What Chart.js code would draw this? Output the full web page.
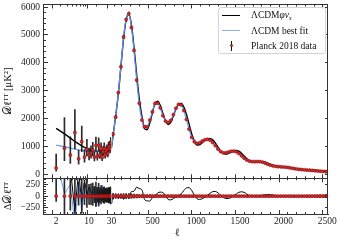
<!DOCTYPE html>
<html><head><meta charset="utf-8">
<script src="https://cdn.jsdelivr.net/npm/chart.js@4.4.1/dist/chart.umd.min.js"></script>
<style>
html,body{margin:0;padding:0;background:#fff;}
#wrap{position:relative;width:341px;height:242px;}
canvas{display:block;}
#legend{position:absolute;left:218px;top:7px;width:108px;height:47px;box-sizing:border-box;border:1px solid #d4d4d4;border-radius:3px;background:rgba(255,255,255,0.85);font-family:'Liberation Serif','DejaVu Serif',serif;font-size:9.5px;color:#111;}
.row{position:absolute;left:0;width:100%;height:12px;}
.txt{position:absolute;left:32px;top:0;line-height:12px;white-space:nowrap;}
.ln{position:absolute;left:3px;width:18px;top:5.5px;height:0;}
.eb{position:absolute;left:12px;top:1px;width:1px;height:10px;background:#111;}
.dot{position:absolute;left:10.7px;top:4.7px;width:3.2px;height:3.2px;border-radius:50%;background:#d42a2a;border:0.4px solid #7d0b0b;box-sizing:border-box;}
sub{font-size:70%;vertical-align:-2px;line-height:0;}
</style></head>
<body>
<div id="wrap">
<canvas id="c" width="341" height="242"></canvas>
<div id="legend">
 <div class="row" style="top:1px"><div class="ln" style="border-top:1.5px solid #000"></div><span class="txt">ΛCDM<i>φν</i><sub><i>s</i></sub></span></div>
 <div class="row" style="top:16.5px"><div class="ln" style="border-top:1.5px solid #8db3f2"></div><span class="txt">ΛCDM best fit</span></div>
 <div class="row" style="top:31.5px"><div class="eb"></div><div class="dot"></div><span class="txt">Planck 2018 data</span></div>
</div>
</div>
<script>
// ---------- low-ℓ (log axis) ----------
const ellLow = [2,3,4,5,6,7,8,9,10,11,12,13,14,15,16,17,18,19,20,21,22,23,24,25,26,27,28,29];
const dataLow = [226,937,693,1501,558,1173,620,900,690,760,870,620,1040,640,1040,700,910,600,820,930,690,820,880,740,960,1000,910,1120];
const errLowMinus = [110,450,300,580,190,360,180,240,175,180,200,140,220,130,200,130,165,105,140,155,112,130,136,112,143,147,131,160];
const errLowPlus = [500,1100,650,820,300,560,270,360,250,260,280,190,300,180,270,175,220,140,185,200,145,165,175,145,182,186,167,200];
const ellModelLow = [2,3,4,5,6,7,8,9,10,11,12,13,14,15,16,17,18,19,20,21,22,23,24,25,26,27,28,29,30];
const lcdmLow = [1050,990,940,905,880,860,845,835,828,823,820,819,819,820,823,827,832,838,845,853,862,872,883,895,908,922,937,953,970];
const phiLow = [1650,1450,1300,1180,1090,1020,965,920,885,860,843,832,826,823,823,826,830,836,843,851,860,870,881,893,906,920,935,951,968];
const resLcdmLow = [824,53,247,-596,322,-313,225,-65,138,63,-50,199,-221,180,-217,127,-78,238,25,-77,172,52,3,155,-52,-78,27,-167];
const resPhiLow = [1424,513,607,-321,532,-153,345,20,195,100,-27,212,-214,183,-217,126,-80,236,23,-79,170,50,1,153,-54,-80,25,-169];

// ---------- high-ℓ (linear axis), binned ----------
const ellBins = [48,78,108,138,168,198,228,258,288,318,348,378,408,438,468,498,528,558,588,618,648,678,708,738,768,798,828,858,888,918,948,978,1008,1038,1068,1098,1128,1158,1188,1218,1248,1278,1308,1338,1368,1398,1428,1458,1488,1518,1548,1578,1608,1638,1668,1698,1728,1758,1788,1818,1848,1878,1908,1938,1968,1998,2028,2058,2088,2118,2148,2178,2208,2238,2268,2298,2328,2358,2388,2418,2448,2478,2497];
const dataHigh = [1440,2055,2930,3860,4925,5550,5760,5265,4445,3380,2550,1945,1710,1700,1945,2240,2542,2552,2385,2104,1910,1860,1940,2140,2370,2510,2490,2290,1970,1620,1330,1170,1110,1130,1190,1240,1255,1225,1140,1030,910,820,775,775,800,825,832,810,750,665,580,515,475,458,455,457,455,438,405,365,330,305,288,277,270,264,255,242,226,208,192,180,170,162,155,148,140,131,122,114,107,100,96];
const errHigh = [60,50,48,50,53,55,55,50,45,38,32,28,26,25,25,25,25,24,23,22,21,20,20,20,20,20,20,19,18,17,15,14,13,13,13,13,13,13,12,12,11,11,11,11,11,11,11,11,11,10,10,10,10,10,10,11,11,11,11,11,11,12,12,12,13,13,14,14,15,15,16,17,18,19,20,21,22,23,25,27,29,31,35];
const ellModelHigh = [30,48,78,108,138,168,198,228,258,288,318,348,378,408,438,468,498,528,558,588,618,648,678,708,738,768,798,828,858,888,918,948,978,1008,1038,1068,1098,1128,1158,1188,1218,1248,1278,1308,1338,1368,1398,1428,1458,1488,1518,1548,1578,1608,1638,1668,1698,1728,1758,1788,1818,1848,1878,1908,1938,1968,1998,2028,2058,2088,2118,2148,2178,2208,2238,2268,2298,2328,2358,2388,2418,2448,2478,2497,2508];
const lcdmHigh = [970,1380,2100,2900,3900,4900,5580,5740,5300,4430,3400,2520,1960,1700,1720,1930,2250,2530,2560,2380,2110,1910,1860,1940,2140,2370,2510,2490,2290,1970,1620,1330,1170,1110,1130,1190,1240,1255,1225,1140,1030,910,820,775,775,800,825,832,810,750,665,580,515,475,458,455,457,455,438,405,365,330,305,288,277,270,264,255,242,226,208,192,180,170,162,155,148,140,131,122,114,107,100,96,94];
const phiHigh = [968,1400,2090,2880,3870,4860,5550,5750,5360,4550,3570,2710,2080,1640,1600,1840,2210,2540,2620,2470,2180,1920,1790,1860,2090,2350,2520,2540,2410,2145,1800,1450,1190,1055,1060,1135,1215,1270,1285,1235,1130,980,840,750,725,750,795,837,855,830,757,660,560,485,453,450,457,465,458,433,397,360,327,302,287,278,272,265,254,238,218,200,186,176,168,160,153,145,136,127,118,111,104,100,98];
const resLcdmHigh = [-60,45,-30,40,-25,30,-20,35,-15,20,-30,15,-10,20,-15,10,-12,8,-5,6,0,0,0,0,0,0,0,0,0,0,0,0,0,0,0,0,0,0,0,0,0,0,0,0,0,0,0,0,0,0,0,0,0,0,0,0,0,0,0,0,0,0,0,0,0,0,0,0,0,0,0,0,0,0,0,0,0,0,0,0,0,0,0];
const resPhiHigh = [-40,35,-50,10,-65,0,-10,95,105,190,160,135,-70,-100,-105,-30,-2,68,85,76,10,-70,-80,-50,-20,10,50,120,175,180,120,20,-55,-70,-55,-25,15,60,95,100,70,20,-25,-50,-50,-30,5,45,80,92,80,45,10,-5,-5,0,10,20,28,32,30,22,14,10,8,8,10,12,12,10,8,6,6,6,5,5,5,5,5,4,4,4,4];

// ---------- axes / ticks ----------
const logTicks = [2,3,4,5,6,7,8,9,10,20,30];
const logLabels = [2,10,30];
const linLabels = [500,1000,1500,2000,2500];
const linMinorStep = 100;
const yTopLabels = [0,1000,2000,3000,4000,5000,6000];
const yTopMinorStep = 200;
const yBotLabels = [-250,0,250];
const yBotMinorStep = 50;
const X_LOG_MIN = 1.05, X_SPLIT = 30, X_LIN_MAX = 2508;
const YT_MIN = -140, YT_MAX = 6090, YB_MIN = -380, YB_MAX = 380;

const FONT = "'Liberation Serif','DejaVu Serif','DejaVu Sans',serif";
Chart.defaults.font.family = FONT;
Chart.defaults.color = '#111';

const RED = '#d42a2a', REDEDGE = '#7d0b0b', BLUE = 'rgba(100,149,237,0.95)', BLACK = '#000', ERR = 'rgba(20,20,20,0.9)';
const FRAME = '#333';

function pts(xs, ys) { return xs.map((x, i) => ({x: x, y: ys[i]})); }
function bars(xs, lo, hi) { return xs.map((x, i) => ({x: x, y: [lo[i], hi[i]]})); }
function lineDS(data, x, y, color, w, order, smooth) {
  return {type: 'line', data, xAxisID: x, yAxisID: y, borderColor: color, borderWidth: w, pointRadius: 0,
    fill: false, cubicInterpolationMode: smooth ? 'monotone' : 'default', tension: 0, order};
}
function pointDS(data, x, y) {
  return {type: 'line', data, xAxisID: x, yAxisID: y, showLine: false, pointRadius: 1.6,
    pointBackgroundColor: RED, pointBorderColor: REDEDGE, pointBorderWidth: 0.5, order: 0};
}
function errDS(data, x, y) {
  return {type: 'bar', data, xAxisID: x, yAxisID: y, backgroundColor: ERR, borderWidth: 0,
    barThickness: 1, maxBarThickness: 1, grouped: false, order: 1};
}

const nL = ellLow.length;
const datasets = [
  // top panel
  pointDS(pts(ellLow, dataLow), 'xlog', 'ytop'),
  pointDS(pts(ellBins, dataHigh), 'xlin', 'ytop'),
  errDS(bars(ellLow, dataLow.map((d, i) => d - errLowMinus[i]), dataLow.map((d, i) => d + errLowPlus[i])), 'xlog', 'ytop'),
  errDS(bars(ellBins, dataHigh.map((d, i) => d - errHigh[i]), dataHigh.map((d, i) => d + errHigh[i])), 'xlin', 'ytop'),
  lineDS(pts(ellModelLow.concat([ellModelHigh[1]]), lcdmLow.concat([lcdmHigh[1]])), 'xlog', 'ytop', BLUE, 1.3, 2, true),
  lineDS(pts(ellModelHigh, lcdmHigh), 'xlin', 'ytop', BLUE, 1.3, 2, true),
  lineDS(pts(ellModelLow.concat([ellModelHigh[1]]), phiLow.concat([phiHigh[1]])), 'xlog', 'ytop', BLACK, 1.4, 3, true),
  lineDS(pts(ellModelHigh, phiHigh), 'xlin', 'ytop', BLACK, 1.4, 3, true),
  // residual panel
  pointDS(ellLow.map(l => ({x: l, y: 0})), 'xlog', 'ybot'),
  pointDS(ellBins.map(l => ({x: l, y: 0})), 'xlin', 'ybot'),
  errDS(bars(ellLow, errLowMinus.map(e => -e), errLowPlus), 'xlog', 'ybot'),
  errDS(bars(ellBins, errHigh.map(e => -e), errHigh), 'xlin', 'ybot'),
  lineDS(pts(ellLow.concat([ellBins[0]]), resLcdmLow.concat([resLcdmHigh[0]])), 'xlog', 'ybot', BLUE, 1.0, 2, false),
  lineDS(pts([ellLow[nL - 1]].concat(ellBins), [resLcdmLow[nL - 1]].concat(resLcdmHigh)), 'xlin', 'ybot', BLUE, 1.0, 2, true),
  lineDS(pts(ellLow.concat([ellBins[0]]), resPhiLow.concat([resPhiHigh[0]])), 'xlog', 'ybot', BLACK, 1.0, 3, false),
  lineDS(pts([ellLow[nL - 1]].concat(ellBins), [resPhiLow[nL - 1]].concat(resPhiHigh)), 'xlin', 'ybot', BLACK, 1.0, 3, true)
];

// inward tick marks drawn as dashed grid lines (ticks on both edges of each panel)
function xDash(ctx, major) {
  const c = ctx.chart, yt = c.scales.ytop, yb = c.scales.ybot;
  if (!yt || !yb) return [];
  const t = major ? 4 : 2;
  const ht = yt.bottom - yt.top, hb = yb.bottom - yb.top;
  return [t, ht - 2 * t, 2 * t, hb - 2 * t, t, 3000];
}
function yDash(ctx, major, solid) {
  if (!ctx.tick) return [];
  if (solid) return [];
  const a = ctx.chart.chartArea;
  const w = a.right - a.left;
  const t = major ? 4 : 2;
  return [t, w - 2 * t, t, 3000];
}
const tickFont = {family: FONT, size: 9.5};

// clip each dataset to its own panel / segment
const panelClip = {
  id: 'panelClip',
  beforeDatasetDraw(chart, args) {
    const m = args.meta, ctx = chart.ctx;
    ctx.save();
    ctx.beginPath();
    ctx.rect(m.xScale.left, m.yScale.top, m.xScale.right - m.xScale.left, m.yScale.bottom - m.yScale.top);
    ctx.clip();
  },
  afterDatasetDraw(chart) { chart.ctx.restore(); }
};

new Chart(document.getElementById('c'), {
  type: 'line',
  data: {datasets},
  plugins: [panelClip],
  options: {
    responsive: false, animation: false, events: [], devicePixelRatio: 1,
    layout: {padding: {top: 3, right: 13, bottom: 0, left: 0}},
    plugins: {
      legend: {display: false}, tooltip: {enabled: false},
      title: {display: true, text: 'ℓ\u2003\u2002', position: 'bottom', fullSize: false, color: '#111',
        font: {family: FONT, size: 11, weight: 'normal'}, padding: {top: 0, bottom: 2}}
    },
    scales: {
      xlog: {
        type: 'logarithmic', position: 'bottom', stack: 'x', stackWeight: 68.5, weight: 0,
        min: X_LOG_MIN, max: X_SPLIT, offset: false,
        afterBuildTicks: s => { s.ticks = logTicks.map(v => ({value: v})); },
        afterFit: s => { s.height = 12.8; s.paddingLeft = 0; s.paddingRight = 0; },
        ticks: {autoSkip: false, maxRotation: 0, padding: 2, font: tickFont, color: '#222',
          callback: v => logLabels.includes(v) ? String(v) : ''},
        grid: {drawTicks: false, z: 1, lineWidth: 1, color: FRAME},
        border: {display: true, color: FRAME, width: 1, z: 1,
          dash: ctx => ctx.tick ? xDash(ctx, logLabels.includes(ctx.tick.value)) : []}
      },
      xlin: {
        type: 'linear', position: 'bottom', stack: 'x', stackWeight: 216.5, weight: 1,
        min: X_SPLIT, max: X_LIN_MAX, offset: false,
        afterBuildTicks: s => {
          const t = [{value: X_SPLIT}];
          for (let v = linMinorStep; v <= X_LIN_MAX; v += linMinorStep) t.push({value: v});
          t.push({value: X_LIN_MAX});
          s.ticks = t;
        },
        afterFit: s => { s.height = 12.8; s.paddingLeft = 0; s.paddingRight = 0; },
        ticks: {autoSkip: false, maxRotation: 0, padding: 2, font: tickFont, color: '#222',
          callback: v => linLabels.includes(v) ? String(v) : ''},
        grid: {drawTicks: false, z: 1, lineWidth: 1,
          color: ctx => (ctx.tick && ctx.tick.value === X_SPLIT) ? '#9a9a9a' : FRAME},
        border: {display: true, color: FRAME, width: 1, z: 1,
          dash: ctx => {
            if (!ctx.tick) return [];
            if (ctx.tick.value === X_SPLIT) return [3, 2];
            if (ctx.tick.value === X_LIN_MAX) return [];
            return xDash(ctx, linLabels.includes(ctx.tick.value));
          }}
      },
      ytop: {
        type: 'linear', position: 'left', stack: 'y', stackWeight: 175, weight: 2,
        min: YT_MIN, max: YT_MAX,
        afterBuildTicks: s => {
          const t = [{value: YT_MIN}];
          for (let v = 0; v <= YT_MAX; v += yTopMinorStep) t.push({value: v});
          t.push({value: YT_MAX});
          s.ticks = t;
        },
        afterFit: s => { s.width = 43; s.paddingTop = 0; s.paddingBottom = 0; },
        ticks: {autoSkip: false, padding: 3, font: tickFont, color: '#222',
          callback: v => yTopLabels.includes(v) ? String(v) : ''},
        title: {display: true, text: '𝒟ℓᵀᵀ [μK²]', color: '#111', font: {family: FONT, size: 10.5}, padding: {top: 1.5, bottom: 0}},
        grid: {drawTicks: false, z: 1, lineWidth: 1, color: FRAME},
        border: {display: true, color: FRAME, width: 1, z: 1,
          dash: ctx => ctx.tick ? yDash(ctx, yTopLabels.includes(ctx.tick.value),
            ctx.tick.value === YT_MIN || ctx.tick.value === YT_MAX) : []}
      },
      ybot: {
        type: 'linear', position: 'left', stack: 'y', stackWeight: 36, weight: 1,
        min: YB_MIN, max: YB_MAX,
        afterBuildTicks: s => {
          const t = [{value: YB_MIN}];
          for (let v = -350; v <= 350; v += yBotMinorStep) t.push({value: v});
          t.push({value: YB_MAX});
          s.ticks = t;
        },
        afterFit: s => { s.width = 43; s.paddingTop = 0; s.paddingBottom = 0; },
        ticks: {autoSkip: false, padding: 3, font: tickFont, color: '#222',
          callback: v => yBotLabels.includes(v) ? String(v).replace('-', '\u2212') : ''},
        title: {display: true, text: 'Δ𝒟ℓᵀᵀ', color: '#111', font: {family: FONT, size: 10.5}, padding: {top: 1.5, bottom: 0}},
        grid: {drawTicks: false, z: 1, lineWidth: 1, color: FRAME},
        border: {display: true, color: FRAME, width: 1, z: 1,
          dash: ctx => ctx.tick ? yDash(ctx, yBotLabels.includes(ctx.tick.value),
            ctx.tick.value === YB_MIN || ctx.tick.value === YB_MAX) : []}
      }
    }
  }
});
</script>
</body></html>
